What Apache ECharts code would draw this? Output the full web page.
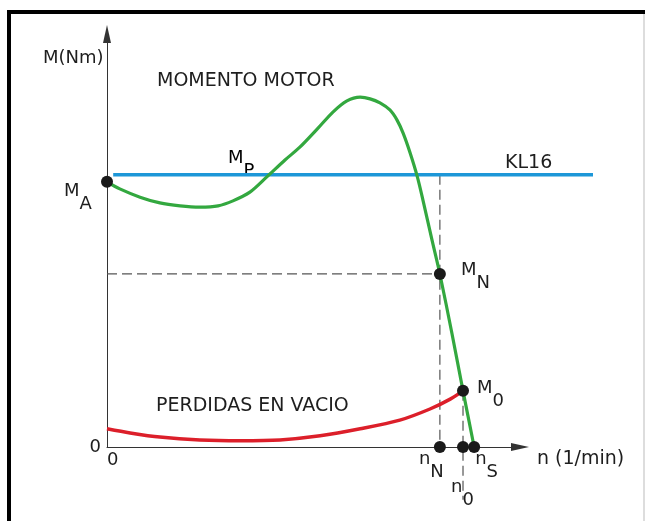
<!DOCTYPE html>
<html>
<head>
<meta charset="utf-8">
<script src="https://cdn.jsdelivr.net/npm/echarts@6/dist/echarts.min.js"></script>
<style>
html,body{margin:0;padding:0;background:#fff;}
#chart{width:645px;height:521px;}
</style>
</head>
<body>
<div id="chart"></div>
<script>
// Speed n (arbitrary units, 0..100 on the drawn axis) and torque M (0..100)
const motorN = [0, 3.1, 8.0, 12.8, 17.7, 22.5, 26.9, 30.5, 34.6, 38.7, 43.1, 46.7, 51.1, 54.7, 58.1, 61.3, 63.7, 66.1, 68.5, 70.2, 71.7, 73.4, 75.1, 76.5, 78.7, 80.6, 83.5, 86.2, 88.9];
const motorM = [64.2, 62.5, 60.5, 59.1, 58.4, 58.1, 58.4, 59.6, 61.7, 65.4, 69.5, 72.6, 77.2, 81.1, 83.8, 84.7, 84.3, 83.3, 81.6, 79.2, 76.0, 71.2, 65.6, 59.8, 50.1, 41.9, 27.6, 13.6, 0];

const lossN = [0, 5.6, 12.8, 22.5, 32.2, 41.9, 51.6, 61.3, 70.9, 78.2, 83.1, 86.2];
const lossM = [4.4, 3.4, 2.4, 1.7, 1.5, 1.7, 2.7, 4.4, 6.5, 9.2, 11.6, 13.6];

const kl16N = [1.5, 117.7];
const kl16M = [65.9, 65.9];

// Characteristic points
const pointNames = ['MA', 'MN', 'M0', 'nN', 'n0', 'nS'];
const pointN = [0, 80.6, 86.2, 80.6, 86.2, 88.9];
const pointM = [64.2, 41.9, 13.6, 0, 0, 0];
const pointMain = ['M', 'M', 'M', 'n', 'n', 'n'];
const pointSub = ['A', 'N', '0', 'N', '0', 'S'];
const n0GuideEnd = -12.8;

const axisTickLabels = ['0'];

const zip = (a, b) => a.map((v, i) => [v, b[i]]);

const FONT = 'DejaVu Sans';
const TXT = '#1e1e1e';
const rich = {
  m: {fontFamily: FONT, fontSize: 18, color: TXT, lineHeight: 18, verticalAlign: 'top'},
  s: {fontFamily: FONT, fontSize: 18, color: TXT, lineHeight: 31, verticalAlign: 'bottom'}
};
const labelOffsets = {
  MA: [-43, 0], MN: [21, -13], M0: [14, -12], nN: [-21, 3], n0: [-12, 31], nS: [1, 3]
};

const chart = echarts.init(document.getElementById('chart'));
const dashStyle = {color: '#555', width: 1.2, type: [10, 5]};

chart.setOption({
  animation: false,
  backgroundColor: '#fff',
  grid: [
    {left: 107, top: 34, width: 413, height: 413},
    {left: 107, top: 34, width: 486, height: 413}
  ],
  xAxis: [{
    type: 'value', min: 0, max: 100, interval: 100, gridIndex: 0,
    splitLine: {show: false}, axisTick: {show: false},
    axisLine: {lineStyle: {color: '#333', width: 1}, symbol: ['none', 'triangle'], symbolSize: [8, 18]},
    axisLabel: {
      formatter: v => (v === 0 ? axisTickLabels[0] : ''),
      fontFamily: FONT, fontSize: 18, color: TXT, margin: 4, align: 'left'
    }
  }, {
    type: 'value', min: 0, max: 117.7, gridIndex: 1, show: false
  }],
  yAxis: [{
    type: 'value', min: 0, max: 100, interval: 100, gridIndex: 0,
    splitLine: {show: false}, axisTick: {show: false},
    axisLine: {lineStyle: {color: '#333', width: 1}, symbol: ['none', 'triangle'], symbolSize: [8, 18]},
    axisLabel: {
      formatter: v => (v === 0 ? axisTickLabels[0] : ''),
      fontFamily: FONT, fontSize: 18, color: TXT, margin: 6, verticalAlign: 'middle', padding: [0, 0, 12, 0]
    }
  }, {
    type: 'value', min: 0, max: 100, gridIndex: 1, show: false
  }],
  series: [
    {
      name: 'KL16', type: 'line', xAxisIndex: 1, yAxisIndex: 1, data: zip(kl16N, kl16M),
      symbol: 'none', lineStyle: {color: '#1d97d8', width: 3.5}, z: 2
    },
    {
      name: 'MOMENTO MOTOR', type: 'line', data: zip(motorN, motorM), smooth: 0.3,
      symbol: 'none', lineStyle: {color: '#33a83f', width: 3.2}, z: 3
    },
    {
      name: 'PERDIDAS EN VACIO', type: 'line', data: zip(lossN, lossM), smooth: 0.3,
      symbol: 'none', lineStyle: {color: '#dc1f2a', width: 3.5}, z: 3
    },
    {
      name: 'guideMN', type: 'line', data: [[0, pointM[1]], [pointN[1], pointM[1]]],
      symbol: 'none', lineStyle: dashStyle, z: 1
    },
    {
      name: 'guidenN', type: 'line', data: [[pointN[3], kl16M[0]], [pointN[3], 0]],
      symbol: 'none', lineStyle: dashStyle, z: 1
    },
    {
      name: 'guiden0', type: 'line', data: [[pointN[4], pointM[2]], [pointN[4], n0GuideEnd]], clip: false,
      symbol: 'none', lineStyle: dashStyle, z: 1
    },
    {
      name: 'points', type: 'scatter', clip: false, symbolSize: 12, z: 5,
      itemStyle: {color: '#1a1a1a', opacity: 1},
      data: pointNames.map((nm, i) => ({
        value: [pointN[i], pointM[i]],
        label: {
          show: true, position: 'inside', align: 'left', verticalAlign: 'top',
          offset: labelOffsets[nm], color: TXT, opacity: 1,
          formatter: '{m|' + pointMain[i] + '}{s|' + pointSub[i] + '}',
          rich: rich
        }
      }))
    }
  ],
  graphic: [
    {type: 'line', shape: {x1: 7, y1: 12, x2: 645, y2: 12}, style: {stroke: '#000', lineWidth: 4}},
    {type: 'line', shape: {x1: 9, y1: 10, x2: 9, y2: 521}, style: {stroke: '#000', lineWidth: 4}},
    {type: 'line', shape: {x1: 644, y1: 14, x2: 644, y2: 521}, style: {stroke: '#bbb', lineWidth: 1}},
    {type: 'text', x: 43, y: 58, style: {text: 'M(Nm)', font: '18px "DejaVu Sans"', fill: TXT, verticalAlign: 'middle'}},
    {type: 'text', x: 157, y: 81, style: {text: 'MOMENTO MOTOR', font: '19px "DejaVu Sans"', fill: TXT, verticalAlign: 'middle'}},
    {type: 'text', x: 505, y: 163, style: {text: 'KL16', font: '19px "DejaVu Sans"', fill: TXT, verticalAlign: 'middle'}},
    {type: 'text', x: 156, y: 406, style: {text: 'PERDIDAS EN VACIO', font: '19px "DejaVu Sans"', fill: TXT, verticalAlign: 'middle'}},
    {type: 'text', x: 537, y: 459, style: {text: 'n (1/min)', font: '19px "DejaVu Sans"', fill: TXT, verticalAlign: 'middle'}},
    {type: 'text', x: 228, y: 149, style: {text: '{m|M}{s|P}', rich: rich, verticalAlign: 'top'}}
  ]
});
</script>
</body>
</html>
